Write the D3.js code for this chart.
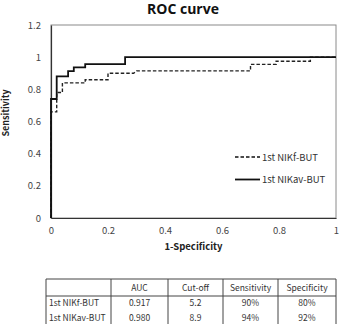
<!DOCTYPE html>
<html>
<head>
<meta charset="utf-8">
<script src="https://cdn.jsdelivr.net/npm/d3@7"></script>
<style>
  body { margin: 0; background: #fff; }
  svg text { font-family: "Noto Sans CJK KR", "Open Sans", sans-serif; }
</style>
</head>
<body>
<svg id="roc" width="342" height="324"></svg>
<script>
// ROC step points [1-specificity, sensitivity]
var nikfPts = [[0,0],[0,0.66],[0.02,0.66],[0.02,0.78],[0.04,0.78],[0.04,0.84],[0.12,0.84],[0.12,0.86],
               [0.2,0.86],[0.2,0.9],[0.29,0.9],[0.3,0.915],[0.7,0.915],[0.7,0.955],[0.79,0.955],
               [0.79,0.975],[0.91,0.975],[0.91,1],[1,1]];
var nikavPts = [[0,0],[0,0.74],[0.02,0.74],[0.02,0.88],[0.06,0.88],[0.06,0.913],[0.08,0.913],[0.08,0.936],
                [0.12,0.936],[0.12,0.957],[0.26,0.957],[0.26,1],[1,1]];
var seriesNames = ["1st NIKf-BUT", "1st NIKav-BUT"];
var xTicks = [0, 0.2, 0.4, 0.6, 0.8, 1];
var yTicks = [0, 0.2, 0.4, 0.6, 0.8, 1, 1.2];

var tableHead = ["", "AUC", "Cut-off", "Sensitivity", "Specificity"];
var tableRows = [["1st NIKf-BUT", "0.917", "5.2", "90%", "80%"],
                 ["1st NIKav-BUT", "0.980", "8.9", "94%", "92%"]];

var svg = d3.select("#roc"),
    margin = {top: 25, right: 6, bottom: 106, left: 51},
    w = +svg.attr("width") - margin.left - margin.right,
    h = +svg.attr("height") - margin.top - margin.bottom;

var x = d3.scaleLinear().domain([0, 1]).range([0, w]);
var y = d3.scaleLinear().domain([0, 1.2]).range([h, 0]);

var g = svg.append("g").attr("transform", "translate(" + margin.left + "," + margin.top + ")");

svg.append("text")
    .attr("x", 183).attr("y", 14)
    .attr("text-anchor", "middle")
    .style("font-family", "'Open Sans', sans-serif")
    .style("font-size", "14px").style("font-weight", "bold").style("fill", "#111")
    .text("ROC curve");

// frame
g.append("rect")
    .attr("width", w).attr("height", h)
    .attr("fill", "none").attr("stroke", "#8a8a8a").attr("stroke-width", 1);

var xa = g.append("g")
    .attr("transform", "translate(0," + h + ")")
    .call(d3.axisBottom(x).tickValues(xTicks).tickSize(0).tickPadding(9).tickFormat(function(d){ return String(d); }));
var ya = g.append("g")
    .call(d3.axisLeft(y).tickValues(yTicks).tickSize(0).tickPadding(10).tickFormat(function(d){ return String(d); }));
[xa, ya].forEach(function(a) {
  a.select(".domain").attr("stroke", "#333").attr("stroke-width", 1.2);
  a.selectAll("text").style("font-size", "9.5px").style("fill", "#444").style("font-family", "'Noto Sans CJK KR', sans-serif");
});

svg.append("text")
    .attr("x", margin.left + w / 2).attr("y", 250)
    .attr("text-anchor", "middle")
    .style("font-size", "9.5px").style("font-weight", "bold").style("fill", "#222")
    .text("1-Specificity");
svg.append("text")
    .attr("transform", "translate(6,113) rotate(-90)")
    .attr("dy", "0.35em")
    .attr("text-anchor", "middle")
    .style("font-size", "9px").style("font-weight", "bold").style("fill", "#222")
    .text("Sensitivity");

var line = d3.line().x(function(d){ return x(d[0]); }).y(function(d){ return y(d[1]); });

g.append("path").datum(nikfPts)
    .attr("d", line).attr("fill", "none")
    .attr("stroke", "#222").attr("stroke-width", 1.4).attr("stroke-dasharray", "3.5,2");
g.append("path").datum(nikavPts)
    .attr("d", line).attr("fill", "none")
    .attr("stroke", "#111").attr("stroke-width", 1.8);

// legend
var leg = svg.append("g").attr("transform", "translate(235,157)");
seriesNames.forEach(function(name, i) {
  var row = leg.append("g").attr("transform", "translate(0," + (i * 22.5) + ")");
  row.append("line").attr("x1", 0).attr("x2", 25).attr("y1", 0).attr("y2", 0)
    .attr("stroke", "#111").attr("stroke-width", i ? 1.8 : 1.4)
    .attr("stroke-dasharray", i ? null : "3.5,2");
  row.append("text").attr("x", 27).attr("y", 3.5)
    .style("font-size", "9.5px").style("fill", "#333").text(name);
});

// table
var colX = [46, 111, 168, 223, 278, 336];
var rowY = [279, 296, 310, 324];
var tg = svg.append("g").attr("class", "tbl");
tg.append("line").attr("x1", colX[0]).attr("x2", colX[5]).attr("y1", rowY[0]).attr("y2", rowY[0]).attr("stroke", "#444");
tg.append("line").attr("x1", colX[0]).attr("x2", colX[5]).attr("y1", rowY[1]).attr("y2", rowY[1]).attr("stroke", "#444");
colX.forEach(function(cx) {
  tg.append("line").attr("x1", cx).attr("x2", cx).attr("y1", rowY[0]).attr("y2", 330).attr("stroke", "#444");
});
tableHead.forEach(function(t, j) {
  tg.append("text").attr("x", (colX[j] + colX[j + 1]) / 2).attr("y", 291)
    .attr("text-anchor", "middle").style("font-size", "8.5px").style("fill", "#333").text(t);
});
tableRows.forEach(function(r, i) {
  r.forEach(function(t, j) {
    tg.append("text")
      .attr("x", j ? (colX[j] + colX[j + 1]) / 2 : colX[0] + 3)
      .attr("y", 306 + i * 14.5)
      .attr("text-anchor", j ? "middle" : "start")
      .style("font-size", "8.5px").style("fill", "#333").text(t);
  });
});
</script>
</body>
</html>
